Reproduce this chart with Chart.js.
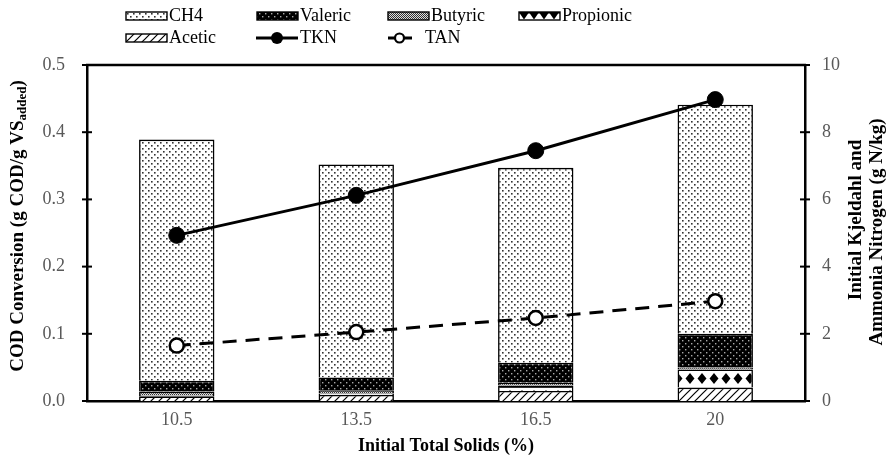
<!DOCTYPE html>
<html>
<head>
<meta charset="utf-8">
<script src="https://cdn.jsdelivr.net/npm/chart.js@4"></script>
<style>
  html, body { margin: 0; padding: 0; background: #fff; }
  #wrap { width: 892px; height: 464px; position: relative; }
</style>
</head>
<body>
<div id="wrap"><canvas id="c" width="892" height="464"></canvas></div>
<script>
// Initial total solids (%)
const solids = ['10.5', '13.5', '16.5', '20'];

// COD conversion components (g COD / g VS added)
const acetic    = [0.007, 0.009, 0.015, 0.020];
const propionic = [0.002, 0.002, 0.008, 0.027];
const butyric   = [0.005, 0.005, 0.004, 0.003];
const valeric   = [0.016, 0.019, 0.030, 0.050];
const ch4       = [0.359, 0.317, 0.290, 0.341];

// Initial nitrogen (g N / kg)
const tkn = [4.93, 6.12, 7.45, 8.97];
const tan = [1.65, 2.05, 2.47, 2.97];

const codTicks = [0, 0.1, 0.2, 0.3, 0.4, 0.5];
const nTicks = [0, 2, 4, 6, 8, 10];

const SERIF = '"Liberation Serif", "Times New Roman", serif';
const TICK_COLOR = '#595959';

// ---- fill patterns ----
const mainCtx = document.getElementById('c').getContext('2d');
function tile(w, h, draw) {
  const c = document.createElement('canvas');
  c.width = w; c.height = h;
  draw(c.getContext('2d'), w, h);
  return c;
}
function makePattern(w, h, draw) {
  return mainCtx.createPattern(tile(w, h, draw), 'repeat');
}
function shifted(t, dx, dy) {
  const p = mainCtx.createPattern(t, 'repeat');
  p.setTransform(new DOMMatrix().translate(dx, dy));
  return p;
}
const patCH4 = makePattern(6, 6, (g) => {
  g.fillStyle = '#fff'; g.fillRect(0, 0, 6, 6);
  g.fillStyle = '#333';
  g.fillRect(1, 1, 1.6, 1.6);
  g.fillRect(4, 4, 1.6, 1.6);
});
const patValeric = makePattern(6, 6, (g) => {
  g.fillStyle = '#000'; g.fillRect(0, 0, 6, 6);
  g.fillStyle = '#aaa';
  g.fillRect(1, 1, 1.4, 1.4);
  g.fillRect(4, 4, 1.4, 1.4);
});
const patButyric = makePattern(2, 2, (g) => {
  g.fillStyle = '#ddd'; g.fillRect(0, 0, 2, 2);
  g.fillStyle = '#333';
  g.fillRect(0, 0, 1, 1);
  g.fillRect(1, 1, 1, 1);
});
// propionic: a row of diamonds under a thin rule, aligned to each segment top
const propTile = tile(12, 18, (g) => {
  g.fillStyle = '#fff'; g.fillRect(0, 0, 12, 18);
  g.fillStyle = '#000';
  g.fillRect(0, 1, 12, 1);
  g.beginPath();
  g.moveTo(6, 4); g.lineTo(10.5, 9.5); g.lineTo(6, 15); g.lineTo(1.5, 9.5); g.closePath();
  g.fill();
});
// legend swatch version: downward triangles
const propLegendTile = tile(10, 8, (g) => {
  g.fillStyle = '#fff'; g.fillRect(0, 0, 10, 8);
  g.fillStyle = '#000';
  g.fillRect(0, 0, 10, 1.5);
  g.beginPath();
  g.moveTo(0.5, 1); g.lineTo(9.5, 1); g.lineTo(5, 7.5); g.closePath();
  g.fill();
});
const patPropionic = mainCtx.createPattern(propTile, 'repeat');
function propionicFill(c) {
  const sc = c.chart.scales && c.chart.scales.y;
  if (!sc || c.dataIndex == null || !isFinite(sc.getPixelForValue(0))) return patPropionic;
  const i = c.dataIndex;
  const top = sc.getPixelForValue(acetic[i] + propionic[i]);
  return shifted(propTile, 0, Math.round(top));
}
const patAcetic = makePattern(8, 8, (g) => {
  g.fillStyle = '#fff'; g.fillRect(0, 0, 8, 8);
  g.strokeStyle = '#000'; g.lineWidth = 1.2;
  g.beginPath();
  g.moveTo(0, 8); g.lineTo(8, 0);
  g.moveTo(-2, 2); g.lineTo(2, -2);
  g.moveTo(6, 10); g.lineTo(10, 6);
  g.stroke();
});

function barSet(label, data, fill) {
  return {
    type: 'bar', label, data, yAxisID: 'y', stack: 'cod', order: 2,
    backgroundColor: fill, borderColor: '#000', borderWidth: 1.6,
    barPercentage: 0.42, categoryPercentage: 1.0
  };
}

// ---- axis extras: crossing tick marks, frame top, titles, legend ----
const extras = {
  id: 'extras',
  afterDraw(chart) {
    const ctx = chart.ctx;
    const a = chart.chartArea;
    const y = chart.scales.y, y2 = chart.scales.y2;
    ctx.save();
    ctx.strokeStyle = '#000';
    ctx.lineWidth = 2.5;
    // top frame line
    ctx.beginPath();
    ctx.moveTo(a.left - 1, a.top); ctx.lineTo(a.right + 1, a.top);
    ctx.stroke();
    // tick marks crossing both vertical axes
    ctx.lineWidth = 2;
    codTicks.forEach(v => {
      const py = y.getPixelForValue(v);
      ctx.beginPath(); ctx.moveTo(a.left - 5, py); ctx.lineTo(a.left + 5, py); ctx.stroke();
    });
    nTicks.forEach(v => {
      const py = y2.getPixelForValue(v);
      ctx.beginPath(); ctx.moveTo(a.right - 5, py); ctx.lineTo(a.right + 5, py); ctx.stroke();
    });

    // axis titles
    ctx.fillStyle = '#000';
    ctx.textBaseline = 'middle';
    ctx.textAlign = 'center';
    ctx.font = 'bold 18px ' + SERIF;
    ctx.fillText('Initial Total Solids (%)', (a.left + a.right) / 2, 446);

    // left title with subscript
    ctx.save();
    ctx.translate(18, 226);
    ctx.rotate(-Math.PI / 2);
    const main = 'COD Conversion (g COD/g VS';
    const sub = 'added';
    const close = ')';
    ctx.font = 'bold 19px ' + SERIF;
    const wMain = ctx.measureText(main).width;
    const wClose = ctx.measureText(close).width;
    ctx.font = 'bold 13px ' + SERIF;
    const wSub = ctx.measureText(sub).width;
    let x0 = -(wMain + wSub + wClose) / 2;
    ctx.textAlign = 'left';
    ctx.font = 'bold 19px ' + SERIF;
    ctx.fillText(main, x0, 0);
    ctx.font = 'bold 13px ' + SERIF;
    ctx.fillText(sub, x0 + wMain, 5);
    ctx.font = 'bold 19px ' + SERIF;
    ctx.fillText(close, x0 + wMain + wSub, 0);
    ctx.restore();

    // right title, two lines
    ctx.save();
    ctx.font = 'bold 19px ' + SERIF;
    ctx.textAlign = 'center';
    ctx.translate(856, 220);
    ctx.rotate(-Math.PI / 2);
    ctx.fillText('Initial Kjeldahl and', 0, 0);
    ctx.restore();
    ctx.save();
    ctx.font = 'bold 19px ' + SERIF;
    ctx.textAlign = 'center';
    ctx.translate(877, 232);
    ctx.rotate(-Math.PI / 2);
    ctx.fillText('Ammonia Nitrogen (g N/kg)', 0, 0);
    ctx.restore();

    // legend
    ctx.font = '18px ' + SERIF;
    ctx.textAlign = 'left';
    ctx.textBaseline = 'middle';
    const swatch = (x, yc, fill, label) => {
      ctx.fillStyle = fill;
      ctx.fillRect(x, yc - 4, 41, 8);
      ctx.strokeStyle = '#000'; ctx.lineWidth = 1.4;
      ctx.strokeRect(x, yc - 4, 41, 8);
      ctx.fillStyle = '#000';
      ctx.fillText(label, x + 43, yc);
    };
    const r1 = 16, r2 = 38;
    swatch(126, r1, patCH4, 'CH4');
    swatch(257, r1, patValeric, 'Valeric');
    swatch(388, r1, patButyric, 'Butyric');
    swatch(519, r1, shifted(propLegendTile, 519, r1 - 4), 'Propionic');
    swatch(126, r2, patAcetic, 'Acetic');
    // TKN entry
    ctx.strokeStyle = '#000'; ctx.lineWidth = 3; ctx.setLineDash([]);
    ctx.beginPath(); ctx.moveTo(256, r2); ctx.lineTo(298, r2); ctx.stroke();
    ctx.fillStyle = '#000';
    ctx.beginPath(); ctx.arc(277, r2, 6, 0, Math.PI * 2); ctx.fill();
    ctx.fillText('TKN', 300, r2);
    // TAN entry
    ctx.lineWidth = 3;
    ctx.beginPath(); ctx.moveTo(388, r2); ctx.lineTo(395, r2); ctx.moveTo(404, r2); ctx.lineTo(412, r2); ctx.stroke();
    ctx.fillStyle = '#fff'; ctx.lineWidth = 2.2;
    ctx.beginPath(); ctx.arc(399.5, r2, 4.5, 0, Math.PI * 2); ctx.fill(); ctx.stroke();
    ctx.fillStyle = '#000';
    ctx.fillText('TAN', 425, r2);
    ctx.restore();
  }
};

new Chart(document.getElementById('c'), {
  data: {
    labels: solids,
    datasets: [
      barSet('Acetic', acetic, patAcetic),
      barSet('Propionic', propionic, propionicFill),
      barSet('Butyric', butyric, patButyric),
      barSet('Valeric', valeric, patValeric),
      barSet('CH4', ch4, patCH4),
      {
        type: 'line', label: 'TKN', data: tkn, yAxisID: 'y2', order: 0,
        borderColor: '#000', borderWidth: 3, backgroundColor: '#000',
        pointRadius: 8, pointBackgroundColor: '#000', pointBorderColor: '#000',
        pointBorderWidth: 1, tension: 0, fill: false
      },
      {
        type: 'line', label: 'TAN', data: tan, yAxisID: 'y2', order: 0,
        borderColor: '#000', borderWidth: 3, borderDash: [14, 9],
        pointRadius: 7, pointBackgroundColor: '#fff', pointBorderColor: '#000',
        pointBorderWidth: 2.5, tension: 0, fill: false
      }
    ]
  },
  options: {
    responsive: false,
    animation: false,
    devicePixelRatio: 1,
    layout: { padding: { top: 65, left: 0, right: 0, bottom: 0 } },
    plugins: { legend: { display: false }, tooltip: { enabled: false } },
    scales: {
      x: {
        type: 'category', offset: true, stacked: true,
        grid: { display: false, drawTicks: false },
        border: { color: '#000', width: 2.5 },
        ticks: { color: TICK_COLOR, font: { family: SERIF, size: 18 }, padding: 8 },
        afterFit(s) { s.height = 63; }
      },
      y: {
        position: 'left', stacked: true, min: 0, max: 0.5,
        grid: { display: false, drawTicks: false },
        border: { color: '#000', width: 2.5 },
        ticks: {
          stepSize: 0.1, padding: 22, color: TICK_COLOR,
          font: { family: SERIF, size: 18 },
          callback: v => Number(v).toFixed(1)
        },
        afterFit(s) { s.width = 87; }
      },
      y2: {
        position: 'right', min: 0, max: 10,
        grid: { display: false, drawTicks: false },
        border: { color: '#000', width: 2.5 },
        ticks: { stepSize: 2, padding: 17, color: TICK_COLOR, font: { family: SERIF, size: 18 } },
        afterFit(s) { s.width = 87; }
      }
    }
  },
  plugins: [extras]
});
</script>
</body>
</html>
